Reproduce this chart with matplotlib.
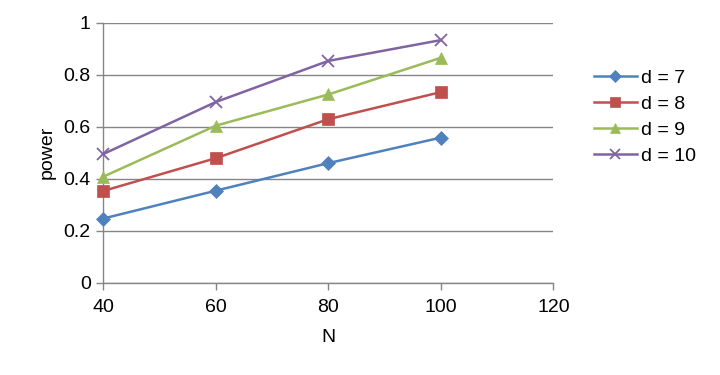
import matplotlib.pyplot as plt

plt.rcParams['font.family'] = ['Liberation Sans', 'DejaVu Sans']

N = [40, 60, 80, 100]
labels = ['d = 7', 'd = 8', 'd = 9', 'd = 10']
power_d7 = [0.247, 0.354, 0.460, 0.558]
power_d8 = [0.353, 0.479, 0.629, 0.733]
power_d9 = [0.408, 0.604, 0.724, 0.865]
power_d10 = [0.495, 0.695, 0.853, 0.933]

series = [power_d7, power_d8, power_d9, power_d10]
colors = ['#4F81BD', '#C0504D', '#9BBB59', '#8064A2']
markers = ['D', 's', '^', 'x']
msizes = [7, 8, 8, 8]

fig = plt.figure(figsize=(7.2, 3.75), dpi=100)
ax = fig.add_axes([0.1435, 0.246, 0.625, 0.6935])

for vals, lab, c, m, ms in zip(series, labels, colors, markers, msizes):
    ax.plot(N, vals, color=c, marker=m, markersize=ms, linewidth=1.8,
            label=lab, markeredgewidth=1.3 if m == 'x' else 0.5,
            markeredgecolor=c, clip_on=False, zorder=3)

ax.set_xlim(40, 120)
ax.set_ylim(0, 1)
ax.set_xticks([40, 60, 80, 100, 120])
ax.set_yticks([0, 0.2, 0.4, 0.6, 0.8, 1])
ax.set_yticklabels(['0', '0.2', '0.4', '0.6', '0.8', '1'])
ax.yaxis.grid(True, color='#868686', linewidth=1)
ax.set_axisbelow(True)
for s in ['top', 'right']:
    ax.spines[s].set_visible(False)
for s in ['left', 'bottom']:
    ax.spines[s].set_color('#868686')
    ax.spines[s].set_linewidth(1)
ax.tick_params(axis='both', colors='#868686', labelcolor='black',
               labelsize=14, length=5, width=1, direction='out')
ax.tick_params(axis='x', pad=7)
ax.tick_params(axis='y', pad=4)
ax.set_xlabel('N', fontsize=14, labelpad=9)
ax.set_ylabel('power', fontsize=14, labelpad=6)

fig.legend(loc='upper left', bbox_to_anchor=(0.814, 0.835), frameon=False,
           fontsize=14, handlelength=2.2, handletextpad=0.25,
           labelspacing=0.42, borderaxespad=0, markerscale=0.85)

fig.savefig('out.png', dpi=100)
